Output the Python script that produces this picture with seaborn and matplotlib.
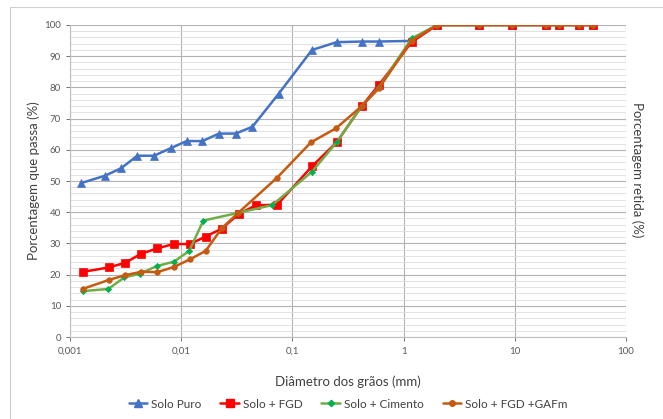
import matplotlib
matplotlib.use("Agg")
import matplotlib.pyplot as plt
import seaborn as sns
import numpy as np
from matplotlib.lines import Line2D
from matplotlib.patches import Rectangle

# ---- data ----
d_puro = [0.00125, 0.00207, 0.00288, 0.00403, 0.00569, 0.00804, 0.0112, 0.0155, 0.0219, 0.0309, 0.0437,
          0.075, 0.15, 0.25, 0.42, 0.6, 1.18, 2.0, 4.75, 9.5, 19.0, 25.0, 37.5, 50.0]
p_puro = [49.3, 51.7, 54.1, 58.1, 58.1, 60.5, 62.8, 62.8, 65.2, 65.2, 67.4,
          77.9, 92.0, 94.5, 94.7, 94.7, 94.9, 100, 100, 100, 100, 100, 100, 100]

d_fgd = [0.00132, 0.00224, 0.00314, 0.00437, 0.0061, 0.00856, 0.012, 0.0166, 0.0231, 0.0331, 0.047,
         0.073, 0.15, 0.25, 0.42, 0.6, 1.18, 2.0, 4.75, 9.5, 19.0, 25.0, 37.5, 50.0]
p_fgd = [20.9, 22.3, 23.8, 26.7, 28.4, 29.8, 29.8, 32.2, 34.7, 39.5, 42.2,
         42.4, 54.7, 62.4, 74.0, 80.8, 94.5, 100, 100, 100, 100, 100, 100, 100]

d_cim = [0.0013, 0.00221, 0.00308, 0.00426, 0.0061, 0.00856, 0.0118, 0.0158, 0.0326, 0.066,
         0.15, 0.25, 0.42, 0.6, 1.18, 2.0, 4.75, 9.5, 19.0, 25.0, 37.5, 50.0]
p_cim = [14.7, 15.4, 19.1, 20.3, 22.8, 24.1, 27.6, 37.3, 39.8, 42.3,
         53.0, 62.4, 74.0, 80.0, 95.7, 100, 100, 100, 100, 100, 100, 100]

d_gaf = [0.0013, 0.00224, 0.00312, 0.00435, 0.0061, 0.00856, 0.012, 0.0166, 0.0231, 0.0326,
         0.073, 0.147, 0.247, 0.42, 0.6, 1.18, 2.0, 4.75, 9.5, 19.0, 25.0, 37.5, 50.0]
p_gaf = [15.4, 18.3, 19.8, 20.9, 20.8, 22.4, 24.9, 27.6, 34.8, 39.8,
         51.1, 62.4, 66.9, 74.0, 79.7, 95.0, 100, 100, 100, 100, 100, 100, 100]

series_names = ["Solo Puro", "Solo + FGD", "Solo + Cimento", "Solo + FGD +GAFm"]
x_ticks = [0.001, 0.01, 0.1, 1, 10, 100]
x_tick_labels = ["0,001", "0,01", "0,1", "1", "10", "100"]
y_ticks = list(range(0, 101, 10))

sns.set_theme(style="white")
plt.rcParams['font.family'] = ['Lato', 'DejaVu Sans']

fig = plt.figure(figsize=(6.63, 4.19), dpi=100)
ax = fig.add_axes([70/663, 1-337/419, (626-70)/663, (337-25)/419])

styles = [
    dict(color="#4472C4", marker="^", markersize=6, mfc="#4472C4", mec="#4472C4"),
    dict(color="#FF0000", marker="s", markersize=5.6, mfc="#FF0000", mec="#FF0000"),
    dict(color="#70AD47", marker="D", markersize=3.2, mfc="#00B050", mec="#00B050"),
    dict(color="#C55A11", marker="o", markersize=4, mfc="#C55A11", mec="#C55A11"),
]
datasets = [(d_puro, p_puro), (d_fgd, p_fgd), (d_cim, p_cim), (d_gaf, p_gaf)]

for (dx, py), st, name in zip(datasets, styles, series_names):
    sns.lineplot(x=dx, y=py, ax=ax, color=st["color"], marker=st["marker"],
                 markersize=st["markersize"], markerfacecolor=st["mfc"],
                 markeredgecolor=st["mec"], markeredgewidth=0.5,
                 linewidth=1.8, sort=False, estimator=None, legend=False, zorder=3)

ax.set_xscale("log")
ax.set_xlim(0.001, 100)
ax.set_ylim(0, 100)
ax.set_xticks(x_ticks)
ax.set_xticklabels(x_tick_labels)
ax.xaxis.set_minor_locator(matplotlib.ticker.NullLocator())
ax.set_yticks(y_ticks)
ax.set_yticks(np.arange(0, 101, 2), minor=True)
ax.tick_params(axis="y", which="minor", length=0)
ax.tick_params(axis="both", which="major", labelsize=7, colors="#595959",
               length=3, width=0.6, direction="out")
ax.tick_params(axis="x", which="major", pad=4)
ax.yaxis.set_tick_params(left=True)
ax.xaxis.set_tick_params(bottom=True)

ax.grid(which="major", axis="both", color="#B3B3B3", linewidth=0.8, zorder=0)
ax.grid(which="minor", axis="y", color="#DDDDDD", linewidth=0.6, zorder=0)
ax.set_axisbelow(True)
for s in ["top", "right"]:
    ax.spines[s].set_visible(False)
for s in ["left", "bottom"]:
    ax.spines[s].set_color("#BFBFBF")
    ax.spines[s].set_linewidth(0.8)

ax.set_xlabel("Diâmetro dos grãos (mm)", fontsize=9.5, color="#404040", labelpad=14)
ax.set_ylabel("Porcentagem que passa (%)", fontsize=9.5, color="#404040", labelpad=3)
fig.text(637/663, 1-170/419, "Porcentagem retida (%)", rotation=-90, fontsize=9.5,
         color="#404040", ha="center", va="center")

handles = [Line2D([0], [0], color=st["color"], marker=st["marker"], markersize=st["markersize"],
                  markerfacecolor=st["mfc"], markeredgecolor=st["mec"], linewidth=1.8)
           for st in styles]
fig.legend(handles, series_names, loc="center", bbox_to_anchor=(348/663, 1-404/419),
           ncol=4, frameon=False, fontsize=8.5, handlelength=1.6, handletextpad=0.3,
           columnspacing=1.6, labelcolor="#404040")

fig.patches.append(Rectangle((10/663, -0.05), 1.1, 1 - 7/419 + 0.05, transform=fig.transFigure,
                             fill=False, edgecolor="#D0D0D0", linewidth=0.8))

fig.savefig("out.png", dpi=100)
